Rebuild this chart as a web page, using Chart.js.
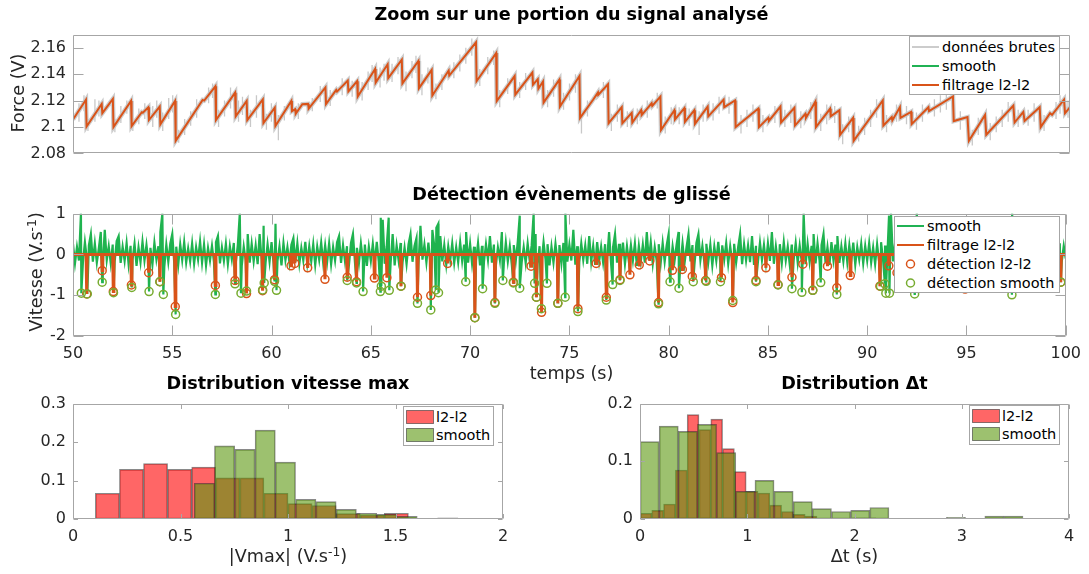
<!DOCTYPE html>
<html><head><meta charset="utf-8">
<script src="https://cdn.jsdelivr.net/npm/chart.js@4.4.0/dist/chart.umd.min.js"></script>
<style>
html,body{margin:0;padding:0;background:#fff;}
body{width:1089px;height:574px;position:relative;overflow:hidden;font-family:'DejaVu Sans',sans-serif;color:#262626;}
canvas{position:absolute;}
.t{position:absolute;font-weight:bold;font-size:17.6px;text-align:center;color:#000;line-height:20px;white-space:nowrap;}
.lab{position:absolute;font-size:17.6px;white-space:nowrap;transform:translate(-50%,-50%);line-height:20px;color:#262626;}
.rot{transform:translate(-50%,-50%) rotate(-90deg);}
.leg{position:absolute;background:#fff;border:1px solid #a6a6a6;font-size:14.5px;color:#000;box-sizing:border-box;}
.row{position:absolute;left:0;right:0;height:18px;line-height:18px;white-space:nowrap;}
.sw{position:absolute;left:0;top:0;}
.lt{position:absolute;left:32px;top:0;}
sup{font-size:0.7em;vertical-align:0.45em;line-height:0;}
</style></head>
<body>
<canvas id="cA" width="1089" height="152" style="left:0;top:18px"></canvas>
<canvas id="cB" width="1089" height="172" style="left:0;top:197px"></canvas>
<canvas id="cC" width="520" height="162" style="left:0;top:387px"></canvas>
<canvas id="cD" width="529" height="162" style="left:560px;top:387px"></canvas>

<div class="t" style="left:73px;width:997px;top:4px">Zoom sur une portion du signal analysé</div>
<div class="t" style="left:73px;width:997px;top:184px">Détection évènements de glissé</div>
<div class="t" style="left:73px;width:430px;top:373px">Distribution vitesse max</div>
<div class="t" style="left:640px;width:429px;top:373px">Distribution Δt</div>

<div class="lab rot" style="left:18px;top:92.5px">Force (V)</div>
<div class="lab rot" style="left:36px;top:271.5px">Vitesse (V.s<sup>-1</sup>)</div>
<div class="lab" style="left:571.5px;top:373px">temps (s)</div>
<div class="lab" style="left:288px;top:556px">|Vmax| (V.s<sup>-1</sup>)</div>
<div class="lab" style="left:854.5px;top:556px">Δt (s)</div>

<div class="leg" style="left:909px;top:36px;width:151px;height:59px">
 <div class="row" style="top:1px"><svg class="sw" width="32" height="18"><line x1="2" y1="9" x2="29" y2="9" stroke="#cccccc" stroke-width="2"/></svg><span class="lt">données brutes</span></div>
 <div class="row" style="top:20px"><svg class="sw" width="32" height="18"><line x1="2" y1="9" x2="29" y2="9" stroke="#20b254" stroke-width="2"/></svg><span class="lt">smooth</span></div>
 <div class="row" style="top:39px"><svg class="sw" width="32" height="18"><line x1="2" y1="9" x2="29" y2="9" stroke="#d95319" stroke-width="2"/></svg><span class="lt">filtrage l2-l2</span></div>
</div>

<div class="leg" style="left:894px;top:216px;width:166px;height:77px">
 <div class="row" style="top:0px"><svg class="sw" width="32" height="18"><line x1="2" y1="9" x2="29" y2="9" stroke="#20b254" stroke-width="2"/></svg><span class="lt">smooth</span></div>
 <div class="row" style="top:19px"><svg class="sw" width="32" height="18"><line x1="2" y1="9" x2="29" y2="9" stroke="#d95319" stroke-width="2"/></svg><span class="lt">filtrage l2-l2</span></div>
 <div class="row" style="top:38px"><svg class="sw" width="32" height="18"><circle cx="15.5" cy="9" r="4" fill="none" stroke="#d95319" stroke-width="1.5"/></svg><span class="lt">détection l2-l2</span></div>
 <div class="row" style="top:57px"><svg class="sw" width="32" height="18"><circle cx="15.5" cy="9" r="4" fill="none" stroke="#77ac30" stroke-width="1.5"/></svg><span class="lt">détection smooth</span></div>
</div>

<div class="leg" style="left:403px;top:406px;width:91px;height:40px">
 <div class="row" style="top:1px"><svg class="sw" width="32" height="18"><rect x="2.5" y="2.5" width="27" height="13" fill="rgba(255,0,0,0.6)" stroke="rgba(40,40,40,0.55)"/></svg><span class="lt">l2-l2</span></div>
 <div class="row" style="top:19px"><svg class="sw" width="32" height="18"><rect x="2.5" y="2.5" width="27" height="13" fill="rgba(92,152,15,0.6)" stroke="rgba(40,40,40,0.55)"/></svg><span class="lt">smooth</span></div>
</div>
<div class="leg" style="left:969px;top:405px;width:91px;height:40px">
 <div class="row" style="top:1px"><svg class="sw" width="32" height="18"><rect x="2.5" y="2.5" width="27" height="13" fill="rgba(255,0,0,0.6)" stroke="rgba(40,40,40,0.55)"/></svg><span class="lt">l2-l2</span></div>
 <div class="row" style="top:19px"><svg class="sw" width="32" height="18"><rect x="2.5" y="2.5" width="27" height="13" fill="rgba(92,152,15,0.6)" stroke="rgba(40,40,40,0.55)"/></svg><span class="lt">smooth</span></div>
</div>

<script>
// ---------------- DATA ----------------
// Top panel: l2-l2 filtered force, vertices of the sawtooth (time s, force V)
const forceT = [
50.00,50.65,50.68,51.44,51.47,52.00,52.03,52.91,52.94,53.45,
53.50,53.78,53.81,54.35,54.38,55.12,55.15,56.50,56.58,57.14,
57.17,58.13,58.16,58.71,58.74,59.52,59.55,60.12,60.15,60.95,
60.98,61.14,61.17,61.50,61.79,61.82,62.66,62.69,63.20,63.24,
63.78,63.81,64.25,64.28,65.15,65.18,65.78,65.81,66.49,66.52,
67.32,67.35,67.99,68.02,68.84,68.87,70.21,70.24,71.22,71.25,
72.15,72.18,73.04,73.07,73.31,73.34,73.57,73.60,74.39,74.42,
75.40,75.43,76.09,76.33,76.35,76.83,76.86,77.52,77.55,78.02,
78.05,78.49,78.52,79.02,79.05,79.46,79.49,80.16,80.19,80.66,
80.69,81.16,81.19,81.83,81.86,82.63,82.66,83.20,83.23,84.37,
84.40,84.87,84.90,85.48,85.51,86.18,86.21,86.73,86.76,87.23,
87.26,87.97,88.00,88.44,88.47,89.12,89.15,90.61,90.64,91.06,
91.09,91.47,91.50,92.03,92.06,92.90,92.93,94.13,94.17,94.86,
94.93,95.74,95.80,97.16,97.22,97.66,97.72,98.48,98.53,99.00,
99.10,99.70,99.75,100.0];
const forceV = [
2.1057,2.1206,2.1004,2.1174,2.1105,2.1213,2.1000,2.1197,2.1007,2.1112,
2.1108,2.1150,2.1053,2.1155,2.1020,2.1197,2.0895,2.1205,2.1200,2.1308,
2.1053,2.1260,2.1080,2.1197,2.1053,2.1210,2.1030,2.1146,2.1007,2.1197,
2.1120,2.1135,2.1100,2.1173,2.1175,2.1139,2.1300,2.1173,2.1280,2.1268,
2.1352,2.1270,2.1347,2.1230,2.1440,2.1336,2.1475,2.1370,2.1510,2.1330,
2.1500,2.1294,2.1433,2.1238,2.1428,2.1390,2.1642,2.1347,2.1560,2.1196,
2.1386,2.1245,2.1412,2.1320,2.1362,2.1290,2.1345,2.1185,2.1359,2.1155,
2.1386,2.1069,2.1208,2.1262,2.1245,2.1324,2.1029,2.1150,2.1029,2.1107,
2.1034,2.1127,2.1090,2.1180,2.1160,2.1231,2.0976,2.1127,2.1057,2.1143,
2.1039,2.1127,2.1023,2.1155,2.1080,2.1208,2.1150,2.1201,2.0999,2.1140,
2.0999,2.1070,2.1046,2.1155,2.1034,2.1145,2.1011,2.1100,2.1069,2.1192,
2.0999,2.1138,2.1080,2.1127,2.0941,2.1069,2.0895,2.1201,2.1011,2.1075,
2.1050,2.1150,2.1069,2.1115,2.1022,2.1150,2.1120,2.1231,2.1045,2.1075,
2.0895,2.1092,2.0941,2.1162,2.1034,2.1115,2.1046,2.1150,2.0999,2.1104,
2.1092,2.1208,2.1104,2.1150];

// Top panel: raw-data noise excursions (time, min, max)
const spikeT = [
50.3,50.55,50.75,51.1,51.3,52.1,52.4,52.7,53.0,53.3,
53.6,54.0,54.2,54.5,54.8,55.0,55.3,55.6,55.9,56.2,
56.8,57.0,57.3,57.6,57.9,58.3,58.5,58.9,59.2,59.7,
59.95,60.3,60.6,61.3,62.0,62.4,62.9,63.5,64.0,64.5,
64.8,65.0,65.4,65.6,66.0,66.3,66.7,67.0,67.2,67.5,
67.8,68.2,68.5,69.1,69.4,69.7,70.0,70.4,70.8,71.1,
71.4,71.8,72.4,72.7,73.8,74.1,74.6,74.9,75.2,75.5,
75.8,76.6,77.0,77.3,77.8,78.3,78.8,79.3,79.7,80.0,
80.4,80.9,81.4,81.6,82.1,82.4,82.9,83.5,83.8,84.1,
84.6,85.2,85.7,86.0,86.5,87.0,87.5,87.8,88.2,88.6,
88.9,89.4,89.7,90.0,90.3,90.8,91.3,91.8,92.3,92.6,
93.2,93.5,93.8,94.5,95.1,95.4,96.0,96.3,96.6,96.9,
97.4,97.9,98.2,98.7,99.3,99.5,99.9];
const spikeLo = [
2.104,2.112,2.097,2.104,2.108,2.096,2.103,2.110,2.097,2.102,
2.106,2.100,2.107,2.097,2.106,2.111,2.088,2.094,2.101,2.107,
2.118,2.122,2.100,2.108,2.114,2.104,2.109,2.100,2.107,2.098,
2.104,2.090,2.105,2.106,2.112,2.119,2.116,2.124,2.123,2.120,
2.128,2.134,2.130,2.135,2.134,2.140,2.127,2.137,2.141,2.124,
2.133,2.121,2.128,2.137,2.142,2.148,2.154,2.131,2.140,2.147,
2.115,2.125,2.122,2.128,2.115,2.123,2.113,2.120,2.126,2.095,
2.108,2.122,2.097,2.104,2.100,2.102,2.107,2.114,2.095,2.102,
2.102,2.101,2.094,2.104,2.105,2.110,2.110,2.095,2.100,2.104,
2.096,2.103,2.100,2.103,2.099,2.106,2.097,2.102,2.103,2.087,
2.096,2.089,2.094,2.100,2.107,2.096,2.104,2.102,2.098,2.104,
2.108,2.111,2.113,2.098,2.086,2.094,2.090,2.096,2.100,2.104,
2.100,2.101,2.104,2.097,2.106,2.110,2.107];
const spikeHi = [
2.118,2.124,2.106,2.121,2.120,2.106,2.116,2.120,2.105,2.114,
2.118,2.116,2.120,2.111,2.122,2.124,2.098,2.106,2.112,2.121,
2.130,2.133,2.113,2.120,2.130,2.120,2.123,2.113,2.124,2.110,
2.118,2.109,2.116,2.118,2.122,2.131,2.128,2.137,2.135,2.134,
2.142,2.147,2.145,2.148,2.148,2.153,2.142,2.150,2.154,2.140,
2.145,2.133,2.140,2.149,2.155,2.160,2.167,2.144,2.153,2.158,
2.128,2.137,2.134,2.141,2.128,2.136,2.126,2.133,2.140,2.112,
2.120,2.134,2.110,2.117,2.112,2.114,2.120,2.126,2.108,2.115,
2.115,2.114,2.112,2.117,2.118,2.123,2.123,2.109,2.113,2.117,
2.109,2.116,2.113,2.117,2.112,2.119,2.110,2.117,2.116,2.102,
2.108,2.101,2.107,2.113,2.121,2.109,2.117,2.116,2.111,2.117,
2.121,2.124,2.127,2.112,2.098,2.107,2.103,2.108,2.113,2.119,
2.113,2.113,2.118,2.109,2.119,2.124,2.120];

// Middle panel: smooth velocity (sampled every 0.1 s from 50 s)
const smoothT0 = 50, smoothDt = 0.1;
const smoothVel = [
.25,-.22,.18,-.15,1.0,-.2,.3,-.12,.22,.5,
-.18,.27,-.2,.15,.55,-.25,.6,-.14,.2,-.22,
.24,-.17,.33,.45,-.21,.19,-.16,.28,-.24,.21,
-.13,.26,-.28,.17,-.19,.31,-.15,.23,-.2,.16,
-.25,.29,-.12,.2,.55,1.0,-.3,.24,-.18,.27,
.5,-.22,.19,-.26,.25,-.14,.3,-.2,.15,-.17,
.27,-.23,.18,-.13,.32,-.2,.24,-.27,.16,-.15,
.21,-.19,.3,.45,-.22,.17,-.16,.26,-.24,.2,
-.12,.28,-.21,.23,1.0,-.28,.19,-.15,.5,-.2,
.26,-.17,.22,-.24,.5,-.13,.7,-.2,.25,-.18,
.3,-.22,.75,-.16,.2,-.27,.28,-.14,.18,-.2,
.24,.4,-.19,.27,-.23,.16,-.15,.31,-.21,.2,
-.17,.25,-.26,.19,-.13,.29,-.2,.22,-.18,.27,
-.24,.18,-.15,.3,.45,-.21,.23,-.17,.2,-.26,
.28,.5,-.19,.16,-.22,.27,-.14,.24,-.28,.19,
-.16,.26,-.21,.31,-.18,.9,.85,-.23,.2,.9,
-.2,.5,-.27,.22,-.15,.28,-.19,.17,-.24,.25,
.5,-.18,.21,.4,-.26,.7,-.13,.24,-.2,.29,
-.22,.6,.19,.65,.75,.45,-.17,.23,-.25,.2,
-.14,.27,-.21,.18,-.19,.3,-.16,.24,.55,-.2,
.26,-.23,.19,-.15,.28,-.27,.21,-.18,.25,-.13,
.45,-.2,.24,-.26,.17,-.14,.55,-.22,.29,-.17,
.2,-.25,.23,-.16,.31,.95,-.19,.18,-.21,.27,
-.15,.22,1.0,.5,-.24,.2,-.18,.3,-.13,.25,
-.27,.19,-.2,.26,-.16,.23,-.22,.28,1.0,-.18,
.24,-.15,.6,-.25,.2,-.19,.27,-.14,.22,-.23,
.45,-.18,.21,-.26,.3,-.17,.19,-.2,.25,-.13,
.55,-.22,.18,.5,-.2,.26,-.16,.29,-.24,.2,
-.19,.23,-.15,.27,-.28,.21,-.17,.24,-.2,.55,
-.14,.3,-.23,.18,-.16,.25,-.21,.28,-.18,.22,
.5,-.26,.2,-.15,.24,.55,-.19,.27,-.22,.18,
.5,-.17,.23,-.25,.29,.5,-.14,.21,-.2,.26,
-.18,.24,-.27,.19,-.16,.31,-.21,.22,-.13,.28,
-.23,.2,-.17,.26,-.2,.18,.5,-.24,.25,-.15,
.22,-.19,.45,-.26,.21,-.17,.29,-.14,.23,-.22,
.27,-.16,.55,-.23,.2,-.18,.25,-.21,.3,-.15,
.19,-.25,.24,-.13,.28,-.2,.22,-.17,1.0,-.24,
.26,-.18,.21,.5,-.22,.27,-.15,.23,.5,-.2,
.18,-.26,.3,-.14,.24,.45,-.21,.2,-.17,.27,
-.2,.23,-.16,.29,-.25,.18,-.13,.26,-.22,.21,
-.15,.28,-.2,.17,-.24,.25,-.18,.3,-.14,.22,
-.21,.95,1.0,-.17,.26,-.23,.2,-.16,.29,-.2,
.24,-.14,.21,-.27,.19,1.0,-.18,.25,-.22,.28,
.55,-.17,.23,-.2,.27,-.15,.18,-.24,.22,-.19,
.3,-.16,.25,-.21,.19,.9,-.27,.24,.55,-.18,
.2,-.23,.28,-.15,.22,-.19,.26,-.14,.3,-.22,
.17,.6,-.2,.24,-.17,.29,-.25,.21,-.13,.26,
-.2,.23,-.18,1.0,-.15,.85,-.22,.27,-.16,.2,
-.24,.29,-.13,.22,-.19,.26,-.21,.18,-.17,.5,
-.15,.24,-.26,.2,-.14,.4,-.23,.27,-.18,.21,
-.1];

// Middle panel: detections l2-l2 (time, velocity)
const detL2T = [50.69,51.47,52.03,52.94,53.81,54.38,55.15,57.17,58.16,58.74,59.55,60.15,60.98,61.17,61.82,62.69,63.81,64.28,65.18,65.81,
66.52,67.35,68.02,68.87,70.24,71.25,72.18,73.07,73.34,73.60,74.42,75.43,76.35,76.86,77.55,78.05,78.52,79.05,79.49,80.19,
80.69,81.19,81.86,82.66,83.23,84.40,84.90,85.51,86.21,86.76,87.26,88.00,88.47,89.15,90.64,91.09,91.50,92.06,92.93,94.17,
94.93,95.80,97.22,97.72,98.53,99.75];
const detL2V = [-0.97,-0.40,-0.91,-0.75,-0.45,-0.67,-1.28,-0.76,-0.64,-0.96,-0.89,-0.62,-0.28,-0.22,-0.33,-0.61,-0.56,-0.67,-0.58,-0.57,
-0.78,-1.05,-1.01,-0.22,-1.55,-1.18,-0.68,-0.29,-1.05,-1.42,-1.20,-1.33,-0.22,-1.05,-0.62,-0.50,-0.26,-0.16,-1.18,-0.39,
-0.37,-0.54,-0.64,-0.57,-1.18,-0.64,-0.33,-0.74,-0.56,-0.24,-0.88,-0.29,-0.82,-0.52,-0.78,-0.28,-0.45,-0.60,-0.35,-0.70,
-0.85,-0.75,-0.55,-0.40,-0.65,-0.68];
// Middle panel: detections smooth (time, velocity)
const detSmT = [50.42,50.72,51.47,52.04,52.96,53.83,54.37,54.55,55.17,57.17,58.16,58.46,58.74,59.55,59.63,60.15,60.25,63.81,64.28,64.61,
65.48,65.53,65.93,66.52,67.35,68.02,68.27,68.41,69.78,70.24,70.63,71.25,71.65,72.18,72.50,73.25,73.34,73.59,73.87,74.42,
74.79,75.43,76.86,77.18,77.55,79.49,80.07,80.52,81.24,81.89,82.61,83.23,84.40,85.51,86.21,86.71,87.26,87.66,88.47,90.67,
90.89,90.94,91.12,92.39,93.20,94.17,95.50,96.30,97.29,98.00,99.75];
const detSmV = [-0.95,-0.97,-0.68,-0.94,-0.81,-0.91,-0.67,-0.98,-1.47,-0.98,-0.72,-0.95,-0.90,-0.87,-0.70,-0.66,-0.88,-0.64,-0.70,-0.91,
-0.91,-0.78,-0.88,-0.78,-1.20,-1.36,-0.87,-0.94,-0.67,-1.55,-0.84,-1.20,-0.64,-0.70,-0.83,-0.71,-1.05,-1.33,-0.71,-1.20,
-1.05,-1.40,-1.12,-0.74,-0.64,-1.21,-0.67,-0.83,-0.67,-0.66,-0.67,-1.13,-0.67,-0.75,-0.84,-0.93,-0.88,-0.69,-0.98,-0.78,
-0.72,-0.95,-0.95,-0.97,-0.60,-0.80,-0.70,-0.50,-0.99,-0.75,-0.68];

// Bottom left: distribution |Vmax| (bin centres, relative frequency)
const vmaxL2Bins = [0.160,0.272,0.384,0.496,0.608,0.720,0.832,0.944,1.056,1.168,1.280,1.392,1.504];
const vmaxL2Freq = [0.067,0.129,0.144,0.129,0.135,0.107,0.107,0.067,0.040,0.035,0.014,0.010,0.015];
const vmaxSmBins = [0.611,0.705,0.800,0.894,0.988,1.083,1.177,1.271,1.366,1.460,1.554,1.743];
const vmaxSmFreq = [0.093,0.190,0.181,0.231,0.148,0.051,0.045,0.025,0.015,0.012,0.007,0.003];
// Bottom right: distribution Δt
const dtL2Bins = [0.055,0.165,0.275,0.385,0.495,0.605,0.715,0.825,0.935,1.045,1.155,1.265,1.375,1.485,1.595,2.035,2.145];
const dtL2Freq = [0.010,0.015,0.026,0.085,0.181,0.155,0.173,0.122,0.082,0.048,0.045,0.024,0.013,0.008,0.005,0.002,0.002];
const dtSmBins = [0.089,0.268,0.446,0.625,0.804,0.982,1.161,1.339,1.518,1.696,1.875,2.054,2.232,2.946,3.304,3.482];
const dtSmFreq = [0.134,0.161,0.152,0.164,0.115,0.048,0.067,0.048,0.030,0.018,0.013,0.015,0.020,0.003,0.005,0.005];

// ---------------- BUILD ----------------
Chart.defaults.font.family = "'DejaVu Sans', sans-serif";
Chart.defaults.color = '#262626';

const frameTicks = {
  id: 'frameTicks',
  afterDatasetsDraw(chart, args, o) {
    const {ctx, chartArea: a} = chart;
    const L = o.len || 10;
    ctx.save();
    ctx.strokeStyle = '#a6a6a6';
    ctx.lineWidth = 1;
    ctx.beginPath();
    const l = Math.round(a.left) + 0.5, r = Math.round(a.right) - 0.5, t = Math.round(a.top) + 0.5, b = Math.round(a.bottom) - 0.5;
    if (o.x) {
      const s = chart.scales.x;
      s.ticks.forEach((tk, i) => { const p = Math.round(s.getPixelForTick(i)) + 0.5; ctx.moveTo(p, b); ctx.lineTo(p, b - L); ctx.moveTo(p, t); ctx.lineTo(p, t + L); });
    }
    if (o.y) {
      const s = chart.scales.y;
      s.ticks.forEach((tk, i) => { const p = Math.round(s.getPixelForTick(i)) + 0.5; ctx.moveTo(l, p); ctx.lineTo(l + L, p); ctx.moveTo(r, p); ctx.lineTo(r - L, p); });
    }
    ctx.rect(l, t, r - l, b - t);
    ctx.stroke();
    ctx.restore();
  }
};

function axis(min, max, step, extra, pad) {
  return Object.assign({
    type: 'linear', min, max, bounds: 'data', offset: false,
    grid: {display: false, drawTicks: false}, border: {display: false},
    afterBuildTicks: s => {
      s.ticks = s.ticks.filter(tk => { const k = (tk.value - min) / step; return Math.abs(k - Math.round(k)) < 1e-6; });
    },
    ticks: {stepSize: step, includeBounds: false, autoSkip: false, maxRotation: 0, minRotation: 0,
      color: '#262626', font: {size: 16}, padding: pad || 7,
      callback: v => String(+(+v).toFixed(3))}
  }, extra || {});
}
function baseOpts(scales, frame, padding) {
  return {
    responsive: false, animation: false, events: [],
    layout: {padding},
    elements: {point: {radius: 0}, line: {tension: 0}},
    plugins: {legend: {display: false}, tooltip: {enabled: false}, frameTicks: frame, filler: {propagate: false}},
    scales
  };
}

// Top panel
const forcePts = forceT.map((t, i) => ({x: t, y: forceV[i]}));
const spikePts = [];
spikeT.forEach((t, i) => { spikePts.push({x: t, y: spikeLo[i]}, {x: t, y: spikeHi[i]}, {x: t, y: null}); });
new Chart(document.getElementById('cA'), {
  type: 'line',
  data: {datasets: [
    {label: 'filtrage l2-l2', data: forcePts, borderColor: '#d95319', borderWidth: 2, order: 1},
    {label: 'données brutes', data: spikePts, borderColor: '#c8c8c8', borderWidth: 1.3, spanGaps: false, order: 2},
    {label: 'données brutes', data: forcePts, borderColor: '#cdcdcd', borderWidth: 4.5, order: 3}
  ]},
  options: baseOpts({
    x: axis(50, 100, 5, {display: false}),
    y: axis(2.08, 2.17, 0.02, {afterFit: s => { s.width = 73; }}, 7)
  }, {len: 10, x: false, y: true}, {top: 10, right: 19, bottom: 13, left: 0}),
  plugins: [frameTicks]
});

// Middle panel
const smoothPts = smoothVel.map((v, i) => ({x: +(smoothT0 + i * smoothDt).toFixed(2), y: v}));
detSmT.forEach((t, i) => smoothPts.push({x: t, y: detSmV[i]}));
smoothPts.sort((a, b) => a.x - b.x);
const l2Pts = [{x: 50, y: 0}];
detL2T.forEach((t, i) => { l2Pts.push({x: t - 0.03, y: 0}, {x: t, y: detL2V[i]}, {x: t + 0.03, y: 0}); });
l2Pts.push({x: 100, y: 0});
new Chart(document.getElementById('cB'), {
  type: 'line',
  data: {datasets: [
    {label: 'smooth', data: smoothPts, borderColor: '#1fb34f', backgroundColor: '#1fb34f', fill: 'origin', borderWidth: 2.2, order: 4},
    {label: 'filtrage l2-l2', data: l2Pts, borderColor: '#d95319', borderWidth: 3, order: 3},
    {label: 'détection l2-l2', data: detL2T.map((t, i) => ({x: t, y: detL2V[i]})), showLine: false,
      pointRadius: 4, pointBorderWidth: 1.5, pointBorderColor: '#d95319', pointBackgroundColor: 'rgba(0,0,0,0)', order: 2},
    {label: 'détection smooth', data: detSmT.map((t, i) => ({x: t, y: detSmV[i]})), showLine: false,
      pointRadius: 4, pointBorderWidth: 1.5, pointBorderColor: '#77ac30', pointBackgroundColor: 'rgba(0,0,0,0)', order: 1}
  ]},
  options: baseOpts({
    x: axis(50, 100, 5, {afterFit: s => { s.height = 33; }}, 8),
    y: axis(-2, 1, 1, {afterFit: s => { s.width = 73; }}, 7)
  }, {len: 10, x: true, y: true}, {top: 10, right: 19, bottom: 0, left: 0}),
  plugins: [frameTicks]
});

// Histograms
function histChart(id, l2Bins, l2Freq, smBins, smFreq, xmax, xstep, ymax, yw, rightPad) {
  const barStyle = {borderWidth: 1, borderColor: 'rgba(40,40,40,0.55)', borderSkipped: false, barPercentage: 1, categoryPercentage: 1, grouped: false};
  new Chart(document.getElementById(id), {
    type: 'bar',
    data: {datasets: [
      Object.assign({label: 'l2-l2', data: l2Bins.map((c, i) => ({x: c, y: l2Freq[i]})), backgroundColor: 'rgba(255,0,0,0.6)', xAxisID: 'x', order: 2}, barStyle),
      Object.assign({label: 'smooth', data: smBins.map((c, i) => ({x: c, y: smFreq[i]})), backgroundColor: 'rgba(92,152,15,0.6)', xAxisID: 'x2', order: 1}, barStyle)
    ]},
    options: baseOpts({
      x: axis(0, xmax, xstep, {afterFit: s => { s.height = 30; }}, 8),
      x2: axis(0, xmax, 1, {display: false}),
      y: axis(0, ymax, 0.1, {afterFit: s => { s.width = yw; }}, 7)
    }, {len: 4.5, x: true, y: true}, {top: 10, right: rightPad, bottom: 0, left: 0}),
    plugins: [frameTicks]
  });
}
histChart('cC', vmaxL2Bins, vmaxL2Freq, vmaxSmBins, vmaxSmFreq, 2, 0.5, 0.3, 73, 17);
histChart('cD', dtL2Bins, dtL2Freq, dtSmBins, dtSmFreq, 4, 1, 0.2, 80, 20);
</script>
</body></html>
